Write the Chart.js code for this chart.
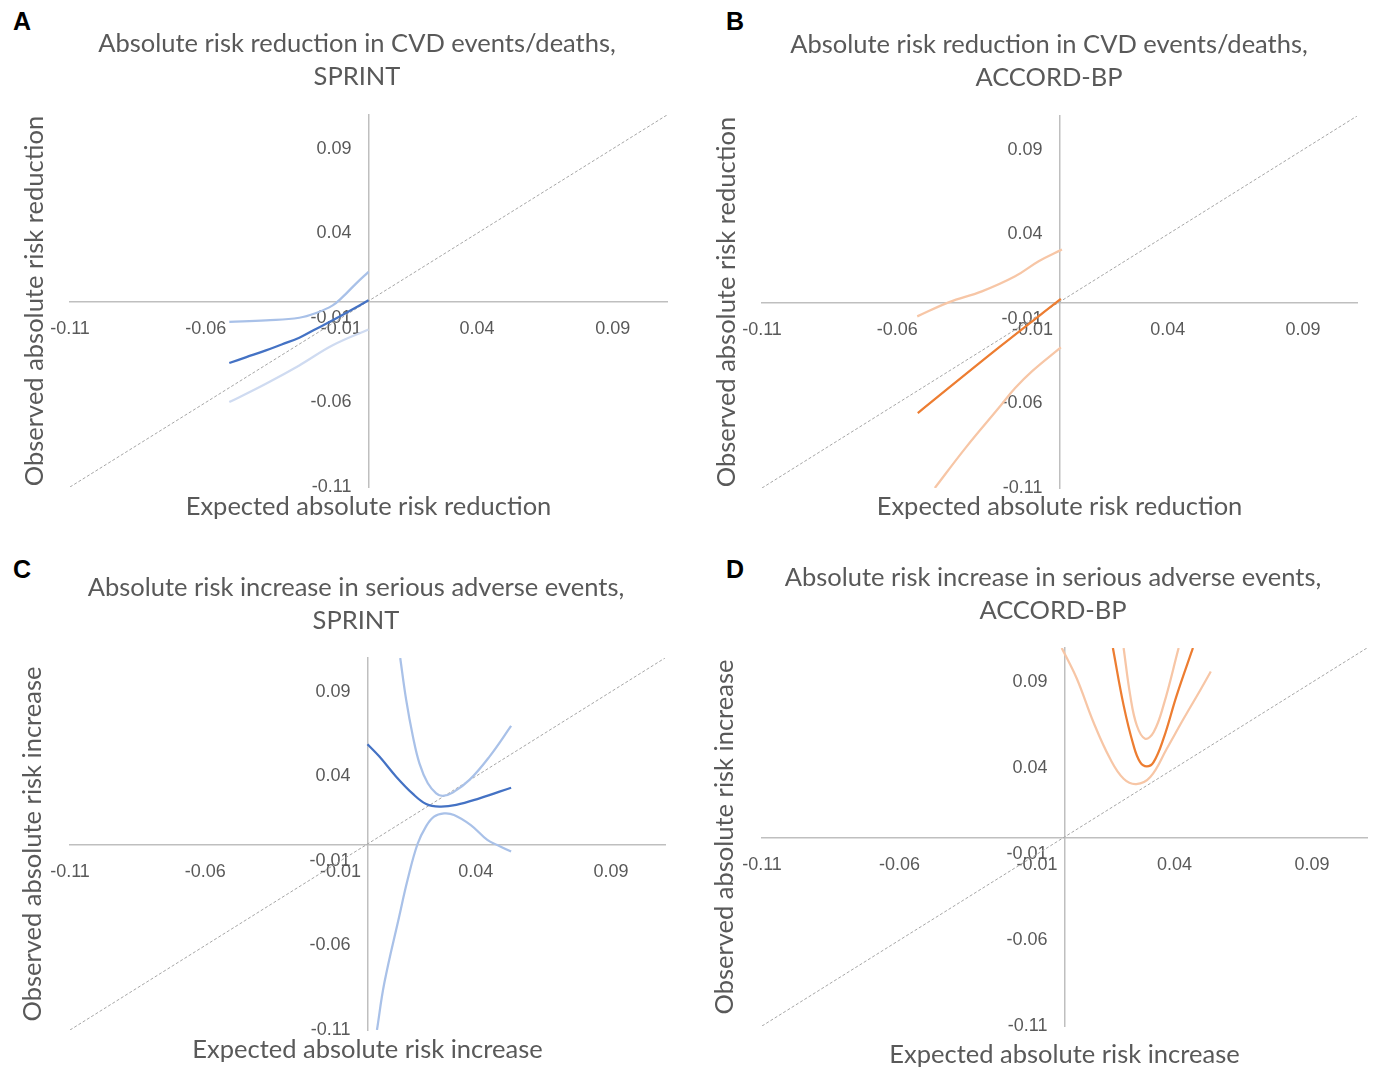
<!DOCTYPE html>
<html>
<head>
<meta charset="utf-8">
<script src="https://cdn.jsdelivr.net/npm/chart.js@4.4.1/dist/chart.umd.min.js"></script>
<style>
  html, body { margin: 0; padding: 0; background: #ffffff; }
  body { width: 1373px; height: 1070px; overflow: hidden; position: relative; }
  canvas { position: absolute; }
  .lbl { position: absolute; font-family: "Liberation Sans", Arial, sans-serif; font-weight: bold;
         font-size: 25px; line-height: 25px; color: #000; }
</style>
</head>
<body>
<div class="lbl" style="left:13px;top:9px">A</div>
<div class="lbl" style="left:726px;top:9px">B</div>
<div class="lbl" style="left:13px;top:557px">C</div>
<div class="lbl" style="left:726px;top:557px">D</div>
<canvas id="cA" width="714" height="535" style="left:0px;top:0px"></canvas>
<canvas id="cB" width="688" height="535" style="left:705px;top:0px"></canvas>
<canvas id="cC" width="712" height="525" style="left:0px;top:545px"></canvas>
<canvas id="cD" width="696" height="535" style="left:705px;top:535px"></canvas>
<script>
// ---------- shared axis data ----------
const AXIS_MIN = -0.11;
const AXIS_MAX = 0.11;
const TICK_VALUES = [-0.11, -0.06, -0.01, 0.04, 0.09];
const TICK_LABELS = ['-0.11', '-0.06', '-0.01', '0.04', '0.09'];
const DIAG_X = [-0.11, 0.11];
const DIAG_Y = [-0.11, 0.11];

// ---------- Panel A: ARR in CVD events/deaths, SPRINT ----------
const A_MAIN_X = [-0.0513, -0.045, -0.0378, -0.032, -0.0255, -0.019, -0.0132, -0.007, 0.0];
const A_MAIN_Y = [-0.0367, -0.0332, -0.0292, -0.0257, -0.0217, -0.0162, -0.0114, -0.0059, 0.0004];
const A_UP_X = [-0.0513, -0.0378, -0.0255, -0.0193, -0.0132, -0.0095, -0.0046, 0.0];
const A_UP_Y = [-0.0124, -0.0114, -0.0099, -0.0071, -0.0026, 0.0024, 0.0103, 0.0172];
const A_LO_X = [-0.0513, -0.0378, -0.0255, -0.0132, 0.0];
const A_LO_Y = [-0.0598, -0.0489, -0.0381, -0.0262, -0.0168];

// ---------- Panel B: ARR in CVD events/deaths, ACCORD-BP ----------
const B_MAIN_X = [-0.0524, -0.0225, 0.0005];
const B_MAIN_Y = [-0.0657, -0.0270, 0.0018];
const B_UP_X = [-0.0526, -0.0410, -0.0287, -0.0164, -0.0077, 0.0009];
const B_UP_Y = [-0.0085, -0.0002, 0.0063, 0.0152, 0.0241, 0.0310];
const B_LO_X = [-0.0461, -0.0348, -0.0225, -0.0164, -0.0102, 0.0005];
const B_LO_Y = [-0.1100, -0.0864, -0.0627, -0.0509, -0.0410, -0.0268];

// ---------- Panel C: ARI in serious adverse events, SPRINT ----------
const C_MAIN_X = [0.0, 0.0044, 0.0106, 0.0168, 0.0217, 0.0266, 0.0328, 0.0414, 0.0531];
const C_MAIN_Y = [0.0590, 0.0517, 0.0398, 0.0296, 0.0237, 0.0221, 0.0231, 0.0270, 0.0333];
const C_UP_X = [0.0121, 0.0143, 0.0168, 0.0192, 0.0223, 0.0254, 0.0278, 0.0315, 0.0377, 0.0451, 0.0531];
const C_UP_Y = [0.1100, 0.0852, 0.0635, 0.0477, 0.0359, 0.0300, 0.0284, 0.0304, 0.0379, 0.0517, 0.0698];
const C_LO_X = [0.0035, 0.0062, 0.0117, 0.0148, 0.0185, 0.0216, 0.0246, 0.0283, 0.0320, 0.0382, 0.0443, 0.0480, 0.0531];
const C_LO_Y = [-0.1100, -0.0824, -0.0430, -0.0213, 0.0000, 0.0103, 0.0162, 0.0181, 0.0172, 0.0112, 0.0024, -0.0006, -0.0045];

// ---------- Panel D: ARI in serious adverse events, ACCORD-BP ----------
const D_MAIN_X = [0.0176, 0.0215, 0.0251, 0.0275, 0.0299, 0.0324, 0.0360, 0.0408, 0.0467];
const D_MAIN_Y = [0.1100, 0.0766, 0.0533, 0.0436, 0.0411, 0.0436, 0.0572, 0.0824, 0.1100];
const D_UP_X = [0.0215, 0.0239, 0.0263, 0.0293, 0.0324, 0.0360, 0.0415];
const D_UP_Y = [0.1100, 0.0824, 0.0649, 0.0572, 0.0610, 0.0766, 0.1100];
const D_LO_X = [-0.0010, 0.0045, 0.0105, 0.0166, 0.0215, 0.0261, 0.0312, 0.0372, 0.0433, 0.0493, 0.0532];
const D_LO_Y = [0.1100, 0.0921, 0.0669, 0.0455, 0.0339, 0.0308, 0.0349, 0.0514, 0.0688, 0.0853, 0.0963];

// ---------- styling ----------
const TEXT_COLOR = '#595959';
const AXIS_COLOR = '#bfbfbf';
const BLUE = '#4472c4', BLUE_CI = '#a9c1e8', BLUE_CI_PALE = '#cfdbf1';
const ORANGE = '#ed7d31', ORANGE_CI = '#f7c6a6';
const TITLE_FONT = { family: 'Lato, "Open Sans", sans-serif', size: 25.5, weight: 'normal' };
const TICK_FONT = { family: '"Liberation Sans", Arial, sans-serif', size: 18 };

function pts(xs, ys) { return xs.map((x, i) => ({ x: x, y: ys[i] })); }

function line(xs, ys, color, width, order) {
  return { data: pts(xs, ys), showLine: true, borderColor: color, borderWidth: width,
           pointRadius: 0, pointHoverRadius: 0, fill: false, tension: 0.4, order: order };
}

function makePanel(id, g, titleLines, xTitle, yTitle, series) {
  const datasets = [
    { data: pts(DIAG_X, DIAG_Y), showLine: true, borderColor: '#a6a6a6', borderWidth: 1,
      borderDash: [3, 2], pointRadius: 0, fill: false, order: 10 }
  ].concat(series);
  const centerTicks = {
    font: TICK_FONT, color: TEXT_COLOR, padding: 17, autoSkip: false, maxRotation: 0,
    callback: (v) => { const i = TICK_VALUES.findIndex(t => Math.abs(t - v) < 1e-9); return i >= 0 ? TICK_LABELS[i] : ''; }
  };
  const setTicks = (s) => { s.ticks = TICK_VALUES.map(v => ({ value: v })); };
  new Chart(document.getElementById(id), {
    type: 'scatter',
    data: { datasets: datasets },
    options: {
      responsive: false, animation: false, devicePixelRatio: 1, events: [],
      layout: { padding: 0 },
      plugins: {
        legend: { display: false }, tooltip: { enabled: false },
        title: { display: true, text: titleLines, color: TEXT_COLOR,
                 font: Object.assign({}, TITLE_FONT, { lineHeight: 33 / 25.5 }),
                 padding: { top: g.titleTop, bottom: g.titleBottom } }
      },
      scales: {
        x: { type: 'linear', position: 'center', min: AXIS_MIN, max: AXIS_MAX,
             grid: { display: false, drawTicks: false },
             border: { display: true, color: AXIS_COLOR, width: 1.5 },
             ticks: centerTicks, afterBuildTicks: setTicks },
        y: { type: 'linear', position: 'center', min: AXIS_MIN, max: AXIS_MAX,
             grid: { display: false, drawTicks: false },
             border: { display: true, color: AXIS_COLOR, width: 1.5 },
             ticks: centerTicks, afterBuildTicks: setTicks },
        xt: { type: 'linear', axis: 'x', position: 'bottom', min: AXIS_MIN, max: AXIS_MAX,
              grid: { display: false, drawTicks: false }, border: { display: false }, ticks: { display: false },
              title: { display: true, text: xTitle, color: TEXT_COLOR, font: TITLE_FONT,
                       padding: { top: 0, bottom: g.xTitlePad } },
              afterFit: (s) => { s.height = g.padB; } },
        yt: { type: 'linear', axis: 'y', position: 'left', min: AXIS_MIN, max: AXIS_MAX,
              grid: { display: false, drawTicks: false }, border: { display: false }, ticks: { display: false },
              title: { display: true, text: yTitle, color: TEXT_COLOR, font: TITLE_FONT,
                       padding: { top: g.yTitlePad, bottom: 0 } },
              afterFit: (s) => { s.width = g.padL; } },
        yr: { type: 'linear', axis: 'y', position: 'right', min: AXIS_MIN, max: AXIS_MAX,
              grid: { display: false, drawTicks: false }, border: { display: false }, ticks: { display: false },
              afterFit: (s) => { s.width = g.padR; } }
      }
    }
  });
}

makePanel('cA', { padL: 70, padR: 47, padB: 48, titleTop: 27.5, titleBottom: 21.5, xTitlePad: 12.7, yTitlePad: 19.7 },
  ['Absolute risk reduction in CVD events/deaths,', 'SPRINT'],
  'Expected absolute risk reduction', 'Observed absolute risk reduction',
  [line(A_MAIN_X, A_MAIN_Y, BLUE, 2.25, 1), line(A_UP_X, A_UP_Y, BLUE_CI, 2.25, 2), line(A_LO_X, A_LO_Y, BLUE_CI_PALE, 2.25, 3)]);

makePanel('cB', { padL: 57, padR: 36, padB: 47, titleTop: 28.5, titleBottom: 21.5, xTitlePad: 12.7, yTitlePad: 6.7 },
  ['Absolute risk reduction in CVD events/deaths,', 'ACCORD-BP'],
  'Expected absolute risk reduction', 'Observed absolute risk reduction',
  [line(B_MAIN_X, B_MAIN_Y, ORANGE, 2.25, 1), line(B_UP_X, B_UP_Y, ORANGE_CI, 2.25, 2), line(B_LO_X, B_LO_Y, ORANGE_CI, 2.25, 3)]);

makePanel('cC', { padL: 70, padR: 47, padB: 40, titleTop: 26.5, titleBottom: 20.5, xTitlePad: 4.7, yTitlePad: 17.7 },
  ['Absolute risk increase in serious adverse events,', 'SPRINT'],
  'Expected absolute risk increase', 'Observed absolute risk increase',
  [line(C_MAIN_X, C_MAIN_Y, BLUE, 2.25, 1), line(C_UP_X, C_UP_Y, BLUE_CI, 2.25, 2), line(C_LO_X, C_LO_Y, BLUE_CI, 2.25, 3)]);

makePanel('cD', { padL: 57, padR: 34, padB: 44, titleTop: 26.5, titleBottom: 20.5, xTitlePad: 0, yTitlePad: 4.7 },
  ['Absolute risk increase in serious adverse events,', 'ACCORD-BP'],
  'Expected absolute risk increase', 'Observed absolute risk increase',
  [line(D_MAIN_X, D_MAIN_Y, ORANGE, 2.25, 1), line(D_UP_X, D_UP_Y, ORANGE_CI, 2.25, 2), line(D_LO_X, D_LO_Y, ORANGE_CI, 2.25, 3)]);
</script>
</body>
</html>
